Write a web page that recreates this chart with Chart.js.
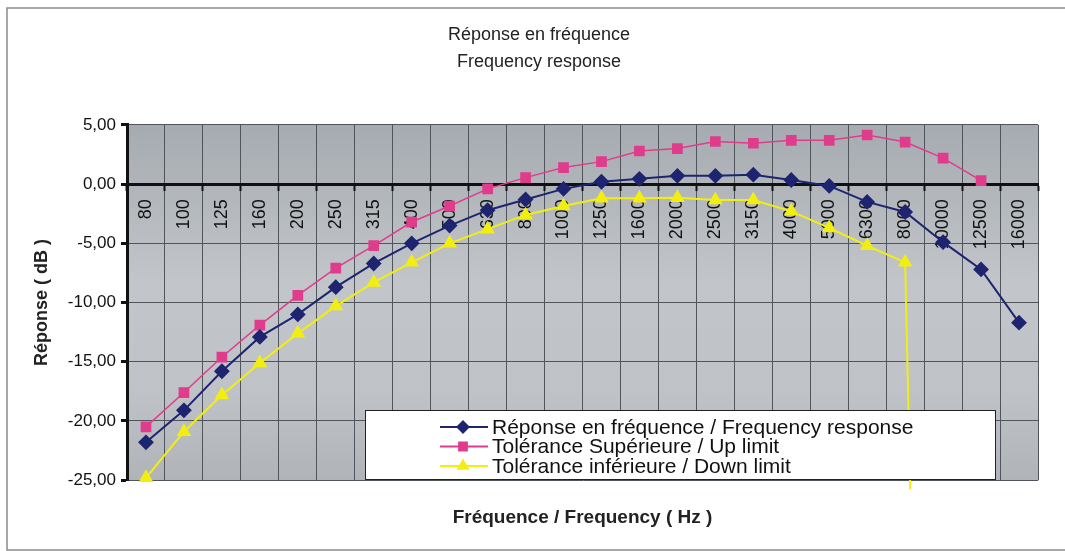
<!DOCTYPE html>
<html>
<head>
<meta charset="utf-8">
<title>Réponse en fréquence</title>
<script src="https://cdn.jsdelivr.net/npm/chart.js@4.4.1/dist/chart.umd.min.js"></script>
<style>
  html, body { margin: 0; padding: 0; background: #fff; }
  #wrap { width: 1065px; height: 551px; }
</style>
</head>
<body>
<div id="wrap"><canvas id="freqChart" width="1065" height="551"></canvas></div>
<script>
  // tiers d'octave (Hz)
  const frequencies = ['80', '100', '125', '160', '200', '250', '315', '400', '500', '630', '800', '1000',
    '1250', '1600', '2000', '2500', '3150', '4000', '5000', '6300', '8000', '10000', '12500', '16000'];

  // réponse mesurée (dB)
  const response = [-21.8, -19.1, -15.8, -12.9, -11.0, -8.7, -6.7, -5.0, -3.5, -2.2, -1.3, -0.4,
    0.2, 0.45, 0.7, 0.7, 0.8, 0.35, -0.15, -1.5, -2.35, -4.9, -7.2, -11.7];

  // gabarit haut (dB)
  const upLimit = [-20.5, -17.6, -14.6, -11.9, -9.4, -7.1, -5.2, -3.2, -1.85, -0.4, 0.55, 1.4,
    1.9, 2.8, 3.0, 3.6, 3.45, 3.7, 3.7, 4.15, 3.55, 2.2, 0.3, null];

  // gabarit bas (dB) - chute hors échelle après 8000 Hz
  const downLimit = [-24.8, -20.9, -17.8, -15.1, -12.6, -10.3, -8.3, -6.6, -5.0, -3.8, -2.6, -1.85,
    -1.2, -1.2, -1.15, -1.35, -1.35, -2.3, -3.7, -5.2, -6.6, -150, null, null];

  const yMin = -25;
  const yMax = 5;
  const yStep = 5;

  const FONT = "'Liberation Sans', Arial, sans-serif";
  const PAD_LEFT = 40;
  const PLOT_LEFT = 127;
  const PLOT_RIGHT = 1038;

  // fond gris de la zone de tracé + cadre de la page
  const plotBackground = {
    id: 'plotBackground',
    beforeDraw(chart) {
      const { ctx, chartArea: a } = chart;
      ctx.save();
      const g = ctx.createLinearGradient(0, a.top, 0, a.bottom);
      g.addColorStop(0, '#a6abb1');
      g.addColorStop(0.45, '#c2c6ca');
      g.addColorStop(0.75, '#bfc3c7');
      g.addColorStop(1, '#b0b4b9');
      ctx.fillStyle = g;
      ctx.fillRect(a.left, a.top, a.right - a.left, a.bottom - a.top);

      ctx.strokeStyle = '#8a8a8a';
      ctx.lineWidth = 1.5;
      ctx.beginPath();
      ctx.moveTo(1065, 8);
      ctx.lineTo(7, 8);
      ctx.lineTo(7, 550);
      ctx.lineTo(1065, 550);
      ctx.stroke();
      ctx.restore();
    }
  };

  // légende encadrée posée dans la zone de tracé
  const boxLegend = {
    id: 'boxLegend',
    afterDatasetsDraw(chart) {
      const { ctx } = chart;
      const x0 = 365, y0 = 410, w = 630, h = 69;
      ctx.save();
      ctx.fillStyle = '#fff';
      ctx.fillRect(x0, y0, w, h);
      ctx.strokeStyle = '#222';
      ctx.lineWidth = 1;
      ctx.strokeRect(x0 + 0.5, y0 + 0.5, w, h);

      ctx.font = '21px ' + FONT;
      ctx.textBaseline = 'middle';
      chart.data.datasets.forEach((ds, i) => {
        const y = 427 + i * 19.5;
        ctx.strokeStyle = ds.borderColor;
        ctx.lineWidth = 2;
        ctx.beginPath();
        ctx.moveTo(440, y);
        ctx.lineTo(488, y);
        ctx.stroke();
        ctx.fillStyle = ds.borderColor;
        Chart.helpers.drawPoint(ctx, {
          pointStyle: ds.pointStyle, radius: 5.5, rotation: 0, borderWidth: 1
        }, 463, y);
        ctx.fillStyle = '#111';
        ctx.fillText(ds.label, 492, y + 1);
      });
      ctx.restore();
    }
  };

  const ctx = document.getElementById('freqChart').getContext('2d');
  const freqChart = new Chart(ctx, {
    type: 'line',
    data: {
      labels: frequencies,
      datasets: [
        {
          label: 'Réponse en fréquence / Frequency response',
          data: response,
          borderColor: '#1e2470',
          backgroundColor: '#1e2470',
          borderWidth: 2,
          pointStyle: 'rectRot',
          pointRadius: 6.5,
          pointHoverRadius: 6.5,
        },
        {
          label: 'Tolérance Supérieure / Up limit',
          data: upLimit,
          borderColor: '#e03c8c',
          backgroundColor: '#e03c8c',
          borderWidth: 1.5,
          pointStyle: 'rect',
          pointRadius: 6.5,
          pointHoverRadius: 6.5,
        },
        {
          label: 'Tolérance inférieure / Down limit',
          data: downLimit,
          borderColor: '#f2ee10',
          backgroundColor: '#f2ee10',
          borderWidth: 2,
          pointStyle: 'triangle',
          pointRadius: 6.5,
          pointHoverRadius: 6.5,
          clip: { left: 0, top: 0, right: 0, bottom: 9 },
        },
      ]
    },
    options: {
      responsive: false,
      animation: false,
      layout: { padding: { left: PAD_LEFT, right: 1065 - PLOT_RIGHT, top: 0, bottom: 0 } },
      plugins: {
        legend: { display: false },
        tooltip: { enabled: false },
        title: {
          display: true,
          text: ['Réponse en fréquence', 'Frequency response'],
          color: '#222',
          font: { family: FONT, size: 18, weight: 'normal', lineHeight: 1.47 },
          padding: { top: 22, bottom: 50 },
        },
        subtitle: {
          display: true,
          position: 'bottom',
          fullSize: false,
          text: 'Fréquence / Frequency ( Hz )',
          color: '#222',
          font: { family: FONT, size: 19, weight: 'bold', lineHeight: 1.2 },
          padding: { top: 26, bottom: 22 },
        },
      },
      scales: {
        x: {
          type: 'category',
          position: { y: 0 },
          offset: true,
          grid: {
            offset: true,
            color: '#50555b',
            lineWidth: 1,
            tickColor: '#111',
            tickWidth: 2,
            tickLength: 5,
          },
          border: { display: true, color: '#111', width: 3 },
          ticks: {
            color: '#111',
            font: { family: FONT, size: 18 },
            minRotation: 90,
            maxRotation: 90,
            autoSkip: false,
            padding: 10,
          },
        },
        y: {
          min: yMin,
          max: yMax,
          afterFit(scale) { scale.width = PLOT_LEFT - PAD_LEFT; },
          grid: {
            color: '#50555b',
            lineWidth: 1,
            tickColor: '#111',
            tickWidth: 3,
            tickLength: 6,
          },
          border: { display: true, color: '#111', width: 3 },
          ticks: {
            stepSize: yStep,
            color: '#111',
            padding: 5,
            font: { family: FONT, size: 17 },
            callback: v => v.toFixed(2).replace('.', ','),
          },
          title: {
            display: true,
            text: 'Réponse ( dB )',
            color: '#222',
            font: { family: FONT, size: 18, weight: 'bold', lineHeight: 1.2 },
            padding: { top: -9, bottom: 0 },
          },
        },
      },
    },
    plugins: [plotBackground, boxLegend],
  });
</script>
</body>
</html>
